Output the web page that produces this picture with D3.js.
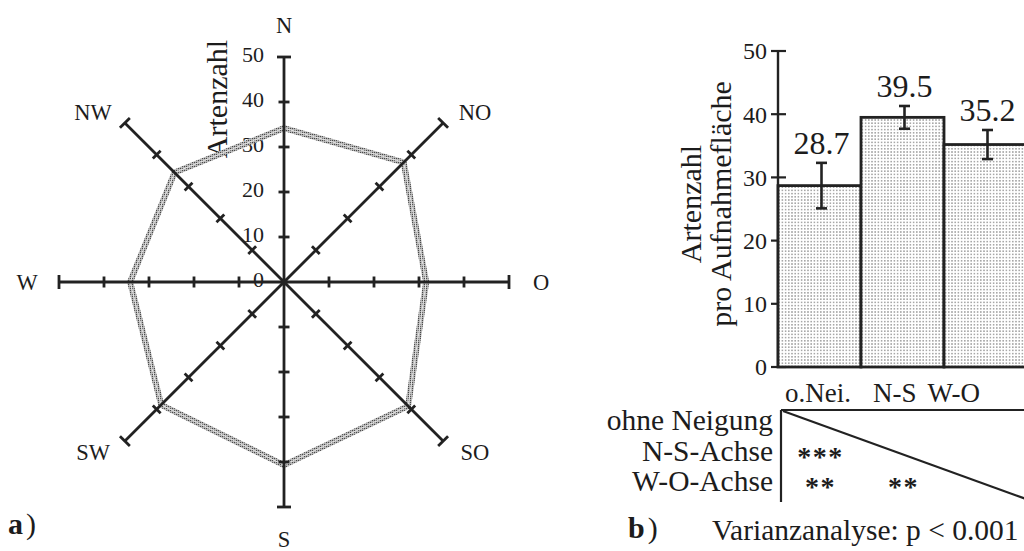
<!DOCTYPE html>
<html>
<head>
<meta charset="utf-8">
<script src="https://cdn.jsdelivr.net/npm/d3@7"></script>
<style>
  html, body { margin: 0; padding: 0; background: #fff; }
  svg { display: block; }
  text { font-family: "Liberation Serif", "Times New Roman", serif; fill: #1c1c1c; }
</style>
</head>
<body>
<svg id="fig" width="1024" height="551"></svg>
<script>
// ---- Data: species number by slope exposition (a) ----
const directions = ["N", "NO", "O", "SO", "S", "SW", "W", "NW"];
const speciesByDirection = [34.2, 37.6, 31.6, 39.0, 40.7, 38.6, 34.2, 34.4];
const radialTicks = [0, 10, 20, 30, 40, 50];

// ---- Data: species per plot by slope axis (b) ----
const categories = ["o.Nei.", "N-S", "W-O"];
const meanSpecies = [28.7, 39.5, 35.2];
const errorSpecies = [3.6, 1.8, 2.3];
const barTicks = [0, 10, 20, 30, 40, 50];

// ---- Data: pairwise significance table ----
const tableRows = ["ohne Neigung", "N-S-Achse", "W-O-Achse"];
const sigRow = [1, 2, 2];
const sigCol = [0, 0, 1];
const sigMark = ["***", "**", "**"];
const anovaText = "Varianzanalyse: p < 0.001";

const svg = d3.select("#fig");
const ink = "#222";

// Patterns: dotted band for the rose outline, dot raster for bars
const defs = svg.append("defs");
const pDots = defs.append("pattern").attr("id", "bandDots")
  .attr("patternUnits", "userSpaceOnUse").attr("width", 2).attr("height", 2);
pDots.append("rect").attr("width", 2).attr("height", 2).attr("fill", "#c8c8c8");
pDots.append("rect").attr("width", 1.2).attr("height", 1.2).attr("fill", "#4a4a4a");

const pBar = defs.append("pattern").attr("id", "barDots")
  .attr("patternUnits", "userSpaceOnUse").attr("width", 3.2).attr("height", 3.2);
pBar.append("rect").attr("width", 3.2).attr("height", 3.2).attr("fill", "#fff");
pBar.append("rect").attr("x", 1).attr("y", 1).attr("width", 1.2).attr("height", 1.2).attr("fill", "#666");

// ================= (a) radial chart =================
const cx = 284, cy = 282;
const r = d3.scaleLinear().domain([0, 50]).range([0, 225]);
const rose = svg.append("g");
const angleOf = i => i * Math.PI / 4;

// tick labels on the north axis
rose.selectAll("text.rtick").data(radialTicks).join("text")
  .attr("class", "rtick")
  .attr("x", cx - 20)
  .attr("y", d => cy - r(d) - 3)
  .attr("dy", "0.35em")
  .attr("text-anchor", "end")
  .attr("font-size", 22)
  .text(d => d);

// axis label
rose.append("text")
  .attr("transform", `translate(${cx - 57},${cy - 183}) rotate(-90)`)
  .attr("text-anchor", "middle")
  .attr("font-size", 30)
  .text("Artenzahl");

// outline of the values (dotted double band)
const radial = d3.lineRadial()
  .angle((d, i) => angleOf(i))
  .radius(d => r(d))
  .curve(d3.curveLinearClosed);
const outline = rose.append("g").attr("transform", `translate(${cx},${cy})`);
outline.append("path").attr("d", radial(speciesByDirection))
  .attr("fill", "none").attr("stroke", "url(#bandDots)").attr("stroke-width", 6)
  .attr("stroke-linejoin", "round");
outline.append("path").attr("d", radial(speciesByDirection))
  .attr("fill", "none").attr("stroke", "#e6e6e6").attr("stroke-width", 1)
  .attr("stroke-linejoin", "round");

// axes with cross ticks and end caps
directions.forEach((dir, i) => {
  const a = angleOf(i);
  const ux = Math.sin(a), uy = -Math.cos(a);
  const px = Math.cos(a), py = Math.sin(a);
  rose.append("line")
    .attr("x1", cx).attr("y1", cy)
    .attr("x2", cx + ux * r(50)).attr("y2", cy + uy * r(50))
    .attr("stroke", ink).attr("stroke-width", 2.8);
  radialTicks.filter(t => t > 0).forEach(t => {
    const h = t === 50 ? 7 : 5.5;
    const tx = cx + ux * r(t), ty = cy + uy * r(t);
    rose.append("line")
      .attr("x1", tx - px * h).attr("y1", ty - py * h)
      .attr("x2", tx + px * h).attr("y2", ty + py * h)
      .attr("stroke", ink).attr("stroke-width", 2.8);
  });
  const diag = i % 2 === 1;
  const rx = diag ? 270 : 257, ry = diag ? 240 : 257;
  rose.append("text")
    .attr("x", cx + ux * rx)
    .attr("y", cy + uy * ry)
    .attr("dy", "0.35em")
    .attr("text-anchor", "middle")
    .attr("font-size", 22.5)
    .text(dir);
});

rose.append("circle").attr("cx", cx).attr("cy", cy).attr("r", 3.5).attr("fill", ink);

const la = svg.append("text").attr("x", 8).attr("y", 534).attr("font-size", 30);
la.append("tspan").attr("font-weight", "bold").text("a");
la.append("tspan").attr("dx", 3).text(")");

// ================= (b) bar chart =================
const x = d3.scaleBand().domain(categories).range([778, 1027]).padding(0);
const y = d3.scaleLinear().domain([0, 50]).range([367, 51]);
const bars = svg.append("g");

// y axis
bars.append("line").attr("x1", 778).attr("x2", 778)
  .attr("y1", y(0)).attr("y2", y(50)).attr("stroke", ink).attr("stroke-width", 2.4);
bars.selectAll("line.ytick").data(barTicks).join("line")
  .attr("class", "ytick")
  .attr("x1", 771).attr("x2", 786)
  .attr("y1", d => y(d)).attr("y2", d => y(d))
  .attr("stroke", ink).attr("stroke-width", 2.2);
bars.selectAll("text.ytick").data(barTicks).join("text")
  .attr("class", "ytick")
  .attr("x", 767).attr("y", d => y(d))
  .attr("dy", "0.35em")
  .attr("text-anchor", "end")
  .attr("font-size", 24)
  .text(d => d);

// axis title, two lines
const yTitle = ["Artenzahl", "pro Aufnahmefläche"];
bars.selectAll("text.ytitle").data(yTitle).join("text")
  .attr("class", "ytitle")
  .attr("transform", (d, i) => `translate(${701 + i * 30},${204}) rotate(-90)`)
  .attr("text-anchor", "middle")
  .attr("font-size", 30)
  .text(d => d);

// bars
bars.selectAll("rect.bar").data(categories).join("rect")
  .attr("class", "bar")
  .attr("x", d => x(d))
  .attr("width", x.bandwidth())
  .attr("y", (d, i) => y(meanSpecies[i]))
  .attr("height", (d, i) => y(0) - y(meanSpecies[i]))
  .attr("fill", "url(#barDots)")
  .attr("stroke", ink).attr("stroke-width", 2.8);

// error bars
categories.forEach((c, i) => {
  const xc = x(c) + x.bandwidth() / 2 + 2;
  const top = y(meanSpecies[i] + errorSpecies[i]);
  const bot = y(meanSpecies[i] - errorSpecies[i]);
  const g = bars.append("g").attr("stroke", ink).attr("stroke-width", 2.6);
  g.append("line").attr("x1", xc).attr("x2", xc).attr("y1", top).attr("y2", bot);
  g.append("line").attr("x1", xc - 5.5).attr("x2", xc + 5.5).attr("y1", top).attr("y2", top);
  g.append("line").attr("x1", xc - 5.5).attr("x2", xc + 5.5).attr("y1", bot).attr("y2", bot);
  bars.append("text")
    .attr("x", xc).attr("y", top - 9)
    .attr("text-anchor", "middle")
    .attr("font-size", 32)
    .text(meanSpecies[i].toFixed(1));
});

// category labels, typeset as one line
const catLine = bars.append("text").attr("x", 785).attr("y", 402).attr("font-size", 27);
const gaps = [0, 22, 11];
categories.forEach((c, i) => catLine.append("tspan").attr("dx", gaps[i]).text(c));

// significance table
const tbl = svg.append("g");
const tTop = 410, tBottom = 502, tLeft = 781;
tbl.append("line").attr("x1", tLeft).attr("x2", 1024).attr("y1", tTop).attr("y2", tTop)
  .attr("stroke", ink).attr("stroke-width", 2.2);
tbl.append("line").attr("x1", tLeft).attr("x2", tLeft).attr("y1", tTop).attr("y2", tBottom)
  .attr("stroke", ink).attr("stroke-width", 2.2);
tbl.append("line").attr("x1", tLeft + 2).attr("y1", tTop + 1)
  .attr("x2", 1030).attr("y2", tTop + 1 + (1030 - tLeft - 2) * 0.362)
  .attr("stroke", ink).attr("stroke-width", 2.2);

const rowY = d3.scalePoint().domain(tableRows).range([430, 491]);
tbl.selectAll("text.row").data(tableRows).join("text")
  .attr("class", "row")
  .attr("x", 773).attr("y", d => rowY(d))
  .attr("text-anchor", "end")
  .attr("font-size", 29.5)
  .text(d => d);

tbl.selectAll("text.sig").data(sigMark).join("text")
  .attr("class", "sig")
  .attr("x", (d, i) => x(categories[sigCol[i]]) + x.bandwidth() / 2 + 1)
  .attr("y", (d, i) => rowY(tableRows[sigRow[i]]) + 5)
  .attr("text-anchor", "middle")
  .attr("font-size", 28)
  .attr("font-weight", "bold")
  .attr("letter-spacing", 1.5)
  .text(d => d);

const lb = svg.append("text").attr("x", 628).attr("y", 538).attr("font-size", 30);
lb.append("tspan").attr("font-weight", "bold").text("b");
lb.append("tspan").attr("dx", 3).text(")");
svg.append("text").attr("x", 712).attr("y", 540).attr("font-size", 29.5).text(anovaText);
</script>
</body>
</html>
